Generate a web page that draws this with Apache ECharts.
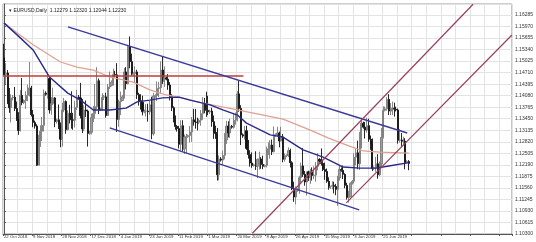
<!DOCTYPE html>
<html><head><meta charset="utf-8">
<script src="https://cdn.jsdelivr.net/npm/echarts@6/dist/echarts.min.js"></script>
<style>html,body{margin:0;padding:0;background:#fff;}#c{width:536px;height:242px;}</style>
</head><body><div id="c"></div>
<script>
const titleText = '\u25BE EURUSD,Daily  1.12279 1.12320 1.12044 1.12230';
const slotCount = 279;
const xTickLabels = ['22 Oct 2018','9 Nov 2018','28 Nov 2018','17 Dec 2018','4 Jan 2019','23 Jan 2019','11 Feb 2019','1 Mar 2019','20 Mar 2019','8 Apr 2019','26 Apr 2019','15 May 2019','3 Jun 2019','21 Jun 2019'];
const xTickEvery = 16;
const xGridEvery = 8;
const yMin = 1.10300, yMax = 1.16586, yStep = 0.00315;
// [open, high, low, close]
const candles = [
[1.1512,1.1550,1.1463,1.1466],[1.1466,1.1497,1.1440,1.1470],[1.1470,1.1478,1.1385,1.1390],[1.1390,1.1429,1.1361,1.1375],[1.1375,1.1412,1.1335,1.1402],[1.1402,1.1410,1.1395,1.1404],
[1.1404,1.1432,1.1366,1.1373],[1.1373,1.1392,1.1339,1.1345],[1.1345,1.1363,1.1301,1.1313],[1.1313,1.1424,1.1310,1.1409],[1.1409,1.1456,1.1382,1.1389],[1.1389,1.1398,1.1385,1.1395],
[1.1395,1.1420,1.1372,1.1409],[1.1409,1.1438,1.1393,1.1428],[1.1428,1.1500,1.1406,1.1429],[1.1429,1.1435,1.1351,1.1356],[1.1356,1.1369,1.1322,1.1335],[1.1335,1.1340,1.1318,1.1325],
[1.1325,1.1330,1.1216,1.1218],[1.1218,1.1301,1.1218,1.1293],[1.1293,1.1327,1.1268,1.1311],[1.1311,1.1350,1.1284,1.1327],[1.1327,1.1425,1.1310,1.1415],[1.1415,1.1420,1.1408,1.1412],
[1.1412,1.1472,1.1400,1.1455],[1.1455,1.1460,1.1359,1.1369],[1.1369,1.1404,1.1356,1.1386],[1.1386,1.1430,1.1382,1.1402],[1.1402,1.1404,1.1322,1.1337],[1.1337,1.1345,1.1332,1.1342],
[1.1342,1.1384,1.1317,1.1327],[1.1327,1.1335,1.1267,1.1289],[1.1289,1.1389,1.1269,1.1369],[1.1369,1.1402,1.1363,1.1392],[1.1392,1.1395,1.1304,1.1315],[1.1315,1.1368,1.1313,1.1360],
[1.1360,1.1383,1.1332,1.1353],[1.1353,1.1420,1.1318,1.1342],[1.1342,1.1361,1.1315,1.1341],[1.1341,1.1394,1.1321,1.1376],[1.1376,1.1424,1.1369,1.1404],[1.1404,1.1410,1.1398,1.1402],
[1.1402,1.1443,1.1346,1.1354],[1.1354,1.1399,1.1306,1.1317],[1.1317,1.1382,1.1311,1.1369],[1.1369,1.1395,1.1350,1.1366],[1.1366,1.1370,1.1269,1.1305],[1.1305,1.1312,1.1301,1.1308],
[1.1308,1.1359,1.1302,1.1348],[1.1348,1.1380,1.1336,1.1359],[1.1359,1.1440,1.1345,1.1378],[1.1378,1.1486,1.1371,1.1449],[1.1449,1.1455,1.1358,1.1369],[1.1369,1.1375,1.1366,1.1372],
[1.1372,1.1415,1.1368,1.1404],[1.1404,1.1410,1.1396,1.1405],[1.1405,1.1416,1.1348,1.1354],[1.1354,1.1440,1.1353,1.1432],[1.1432,1.1474,1.1426,1.1436],[1.1436,1.1450,1.1433,1.1445],
[1.1445,1.1482,1.1436,1.1466],[1.1466,1.1476,1.1458,1.1465],[1.1465,1.1497,1.1309,1.1343],[1.1343,1.1397,1.1323,1.1392],[1.1392,1.1419,1.1355,1.1395],[1.1395,1.1410,1.1393,1.1405],
[1.1405,1.1484,1.1400,1.1473],[1.1473,1.1486,1.1425,1.1441],[1.1441,1.1547,1.1439,1.1542],[1.1542,1.1570,1.1483,1.1501],[1.1501,1.1523,1.1463,1.1467],[1.1467,1.1472,1.1462,1.1468],
[1.1468,1.1488,1.1443,1.1473],[1.1473,1.1479,1.1399,1.1411],[1.1411,1.1416,1.1381,1.1394],[1.1394,1.1412,1.1370,1.1390],[1.1390,1.1408,1.1354,1.1364],[1.1364,1.1370,1.1360,1.1366],
[1.1366,1.1385,1.1351,1.1366],[1.1366,1.1386,1.1337,1.1364],[1.1364,1.1394,1.1356,1.1383],[1.1383,1.1405,1.1289,1.1304],[1.1304,1.1416,1.1299,1.1407],[1.1407,1.1412,1.1402,1.1408],
[1.1408,1.1447,1.1393,1.1428],[1.1428,1.1446,1.1404,1.1430],[1.1430,1.1502,1.1414,1.1478],[1.1478,1.1514,1.1440,1.1448],[1.1448,1.1488,1.1432,1.1457],[1.1457,1.1460,1.1450,1.1453],
[1.1453,1.1467,1.1424,1.1437],[1.1437,1.1445,1.1395,1.1406],[1.1406,1.1412,1.1366,1.1375],[1.1375,1.1379,1.1335,1.1343],[1.1343,1.1354,1.1315,1.1324],[1.1324,1.1328,1.1310,1.1318],
[1.1318,1.1325,1.1264,1.1275],[1.1275,1.1341,1.1257,1.1326],[1.1326,1.1341,1.1257,1.1262],[1.1262,1.1302,1.1249,1.1295],[1.1295,1.1304,1.1251,1.1296],[1.1296,1.1302,1.1293,1.1299],
[1.1299,1.1325,1.1280,1.1309],[1.1309,1.1350,1.1282,1.1342],[1.1342,1.1372,1.1326,1.1340],[1.1340,1.1372,1.1318,1.1336],[1.1336,1.1348,1.1313,1.1335],[1.1335,1.1345,1.1330,1.1341],
[1.1341,1.1369,1.1326,1.1359],[1.1359,1.1404,1.1342,1.1386],[1.1386,1.1402,1.1360,1.1370],[1.1370,1.1419,1.1350,1.1368],[1.1368,1.1408,1.1355,1.1364],[1.1364,1.1370,1.1358,1.1366],
[1.1366,1.1375,1.1323,1.1337],[1.1337,1.1354,1.1290,1.1308],[1.1308,1.1326,1.1290,1.1305],[1.1305,1.1320,1.1176,1.1192],[1.1192,1.1245,1.1177,1.1235],[1.1235,1.1240,1.1228,1.1232],
[1.1232,1.1258,1.1218,1.1245],[1.1245,1.1306,1.1234,1.1287],[1.1287,1.1339,1.1276,1.1325],[1.1325,1.1338,1.1294,1.1306],[1.1306,1.1345,1.1293,1.1324],[1.1324,1.1328,1.1318,1.1322],
[1.1322,1.1361,1.1318,1.1341],[1.1341,1.1362,1.1329,1.1352],[1.1352,1.1421,1.1338,1.1413],[1.1413,1.1448,1.1364,1.1373],[1.1373,1.1382,1.1273,1.1301],[1.1301,1.1305,1.1293,1.1298],
[1.1298,1.1325,1.1288,1.1312],[1.1312,1.1326,1.1260,1.1264],[1.1264,1.1287,1.1236,1.1247],[1.1247,1.1259,1.1214,1.1224],[1.1224,1.1253,1.1211,1.1217],[1.1217,1.1222,1.1214,1.1219],
[1.1219,1.1256,1.1205,1.1215],[1.1215,1.1236,1.1183,1.1234],[1.1234,1.1255,1.1206,1.1235],[1.1235,1.1240,1.1208,1.1220],[1.1220,1.1244,1.1207,1.1215],[1.1215,1.1220,1.1212,1.1218],
[1.1218,1.1269,1.1212,1.1262],[1.1262,1.1280,1.1246,1.1262],[1.1262,1.1286,1.1236,1.1273],[1.1273,1.1288,1.1246,1.1255],[1.1255,1.1324,1.1253,1.1301],[1.1301,1.1305,1.1296,1.1302],
[1.1302,1.1323,1.1297,1.1306],[1.1306,1.1310,1.1267,1.1284],[1.1284,1.1323,1.1283,1.1295],[1.1295,1.1303,1.1226,1.1234],[1.1234,1.1250,1.1228,1.1244],[1.1244,1.1248,1.1240,1.1245],
[1.1245,1.1267,1.1240,1.1258],[1.1258,1.1263,1.1212,1.1225],[1.1225,1.1229,1.1150,1.1153],[1.1153,1.1173,1.1118,1.1131],[1.1131,1.1160,1.1111,1.1149],[1.1149,1.1155,1.1145,1.1150],
[1.1150,1.1189,1.1140,1.1184],[1.1184,1.1225,1.1167,1.1216],[1.1216,1.1265,1.1186,1.1193],[1.1193,1.1202,1.1162,1.1172],[1.1172,1.1200,1.1135,1.1200],[1.1200,1.1203,1.1175,1.1185],
[1.1185,1.1208,1.1167,1.1199],[1.1199,1.1212,1.1176,1.1190],[1.1190,1.1215,1.1180,1.1191],[1.1191,1.1227,1.1173,1.1215],[1.1215,1.1251,1.1204,1.1234],[1.1234,1.1237,1.1225,1.1230],
[1.1230,1.1264,1.1217,1.1223],[1.1223,1.1233,1.1202,1.1206],[1.1206,1.1225,1.1178,1.1201],[1.1201,1.1209,1.1170,1.1174],[1.1174,1.1185,1.1151,1.1157],[1.1157,1.1162,1.1153,1.1160],
[1.1160,1.1174,1.1152,1.1163],[1.1163,1.1173,1.1141,1.1160],[1.1160,1.1167,1.1136,1.1152],[1.1152,1.1189,1.1107,1.1183],[1.1183,1.1216,1.1176,1.1206],[1.1206,1.1212,1.1200,1.1204],
[1.1204,1.1217,1.1180,1.1193],[1.1193,1.1196,1.1155,1.1163],[1.1163,1.1170,1.1124,1.1130],[1.1130,1.1148,1.1116,1.1132],[1.1132,1.1171,1.1130,1.1169],[1.1169,1.1178,1.1165,1.1174],
[1.1174,1.1251,1.1168,1.1240],[1.1240,1.1264,1.1218,1.1252],[1.1252,1.1285,1.1207,1.1222],[1.1222,1.1309,1.1205,1.1276],[1.1276,1.1348,1.1264,1.1333],[1.1333,1.1337,1.1318,1.1322],
[1.1322,1.1336,1.1291,1.1314],[1.1314,1.1348,1.1307,1.1326],[1.1326,1.1345,1.1282,1.1289],[1.1289,1.1299,1.1260,1.1276],[1.1276,1.1291,1.1202,1.1209],[1.1209,1.1215,1.1205,1.1211],
[1.1211,1.1241,1.1200,1.1222],[1.1222,1.1248,1.1181,1.1192],[1.1192,1.1228,1.1188,1.1222],[1.1222,1.1320,1.1210,1.1294],[1.1294,1.1379,1.1291,1.1368],[1.1368,1.1378,1.1365,1.1372],
[1.1372,1.1404,1.1367,1.1398],[1.1398,1.1412,1.1355,1.1366],[1.1366,1.1388,1.1355,1.1367],[1.1367,1.1392,1.1355,1.1374],[1.1374,1.1389,1.1351,1.1371],[1.1371,1.1378,1.1365,1.1369],
[1.1369,1.1373,1.1277,1.1286],[1.1286,1.1317,1.1280,1.1287],[1.1287,1.1306,1.1268,1.1283],[1.1283,1.1296,1.1274,1.1284],[1.1284,1.1292,1.1207,1.1225],[1.1225,1.1232,1.1222,1.1228],
[1.12279,1.12320,1.12044,1.12230]
];
// moving averages [barIndex, price]
const maFast = [[0,1.1607],[9,1.1566],[16,1.1533],[25,1.1459],[35,1.1415],[42,1.1396],[49,1.1369],[58,1.1369],[67,1.1374],[73,1.1391],[80,1.1396],[87,1.1402],[96,1.1404],[102,1.1396],[113,1.1383],[120,1.1369],[128,1.1355],[133,1.1333],[146,1.1301],[153,1.1295],[164,1.1260],[175,1.1240],[186,1.1213],[195,1.1210],[204,1.1210],[211,1.1216],[222,1.1225]];
const maSlow = [[0,1.1607],[16,1.1547],[31,1.1500],[40,1.1486],[49,1.1478],[58,1.1459],[71,1.1445],[80,1.1424],[89,1.1410],[96,1.1404],[109,1.1388],[128,1.1369],[153,1.1344],[168,1.1314],[178,1.1292],[189,1.1271],[197,1.1257],[206,1.1254],[222,1.1251]];
// drawn trend lines [barIndex, price]
const channelUpper = [[35.1,1.1596],[221.1,1.1306]];
const channelLower = [[58.0,1.1320],[194.8,1.1096]];
const resistance = [[-0.5,1.1462],[131.3,1.1462]];
const riseUpper = [[136.2,1.1032],[257.2,1.1658]];
const riseLower = [[187.7,1.1115],[278.5,1.1574]];

const slotIds = Array.from({length: slotCount}, (_, i) => String(i));
const kData = candles.map(r => [r[0], r[3], r[2], r[1]]);
const lastClose = candles[candles.length - 1][3];

const chart = echarts.init(document.getElementById('c'), null, {renderer: 'canvas'});
const lineS = (data, color, width, z) => ({
  type: 'line', xAxisIndex: 1, yAxisIndex: 0, data, showSymbol: false, symbol: 'none', silent: true,
  lineStyle: {color, width}, z, clip: true, animation: false
});
chart.setOption({
  animation: false,
  backgroundColor: '#ffffff',
  title: {text: titleText, left: 4, top: 3, textStyle: {fontSize: 5, fontWeight: 'normal', color: '#222', fontFamily: 'Liberation Sans'}},
  grid: {left: 3, right: 23, top: 4, bottom: 8, show: true, borderColor: '#9a9a9a', borderWidth: 1, backgroundColor: '#fff'},
  xAxis: [
    {type: 'category', data: slotIds, boundaryGap: true,
     axisLine: {show: true, lineStyle: {color: '#555', width: 1}},
     axisTick: {show: true, length: 2, interval: (i) => i % xTickEvery === 0, lineStyle: {color: '#555'}},
     axisLabel: {show: true, interval: (i) => i % xTickEvery === 0 && i / xTickEvery < xTickLabels.length,
       formatter: (v, i) => xTickLabels[i / xTickEvery] || '', fontSize: 4.3, color: '#333', margin: 1, align: 'left', fontFamily: 'Liberation Sans'},
     splitLine: {show: true, interval: (i) => i % xGridEvery === 0, lineStyle: {color: '#e3e3e3', width: 1}}},
    {type: 'value', min: -0.5, max: slotCount - 0.5, show: false}
  ],
  yAxis: [{type: 'value', position: 'right', min: yMin, max: yMax, interval: yStep,
    axisLine: {show: true, lineStyle: {color: '#555', width: 1}},
    axisTick: {show: true, length: 2, lineStyle: {color: '#555'}},
    axisLabel: {fontSize: 5, color: '#333', margin: 3, formatter: (v) => v.toFixed(5), showMaxLabel: false, showMinLabel: true, fontFamily: 'Liberation Sans'},
    splitLine: {show: true, lineStyle: {color: '#e3e3e3', width: 1}}}],
  series: [
    {type: 'candlestick', xAxisIndex: 0, yAxisIndex: 0, data: kData, barWidth: 1.6, silent: true, z: 3,
     itemStyle: {color: '#a0a0a0', color0: '#111111', borderColor: '#7a7a7a', borderColor0: '#111111', borderWidth: 0.9},
     markLine: {silent: true, symbol: 'none', data: [{yAxis: lastClose}], lineStyle: {opacity: 0},
       label: {show: true, position: 'end', formatter: lastClose.toFixed(5), backgroundColor: '#000', color: '#fff', fontSize: 5, padding: [1, 1], distance: 1, fontFamily: 'Liberation Sans'}}},
    lineS(maSlow, '#e0a090', 1.2, 4),
    lineS(maFast, '#2a2a8a', 1.4, 5),
    lineS(resistance, '#c23b3b', 1.6, 6),
    lineS(channelUpper, '#3a3a9c', 1.4, 6),
    lineS(channelLower, '#3a3a9c', 1.4, 6),
    lineS(riseUpper, '#98405a', 1.2, 6),
    lineS(riseLower, '#98405a', 1.2, 6)
  ]
});
</script></body></html>
